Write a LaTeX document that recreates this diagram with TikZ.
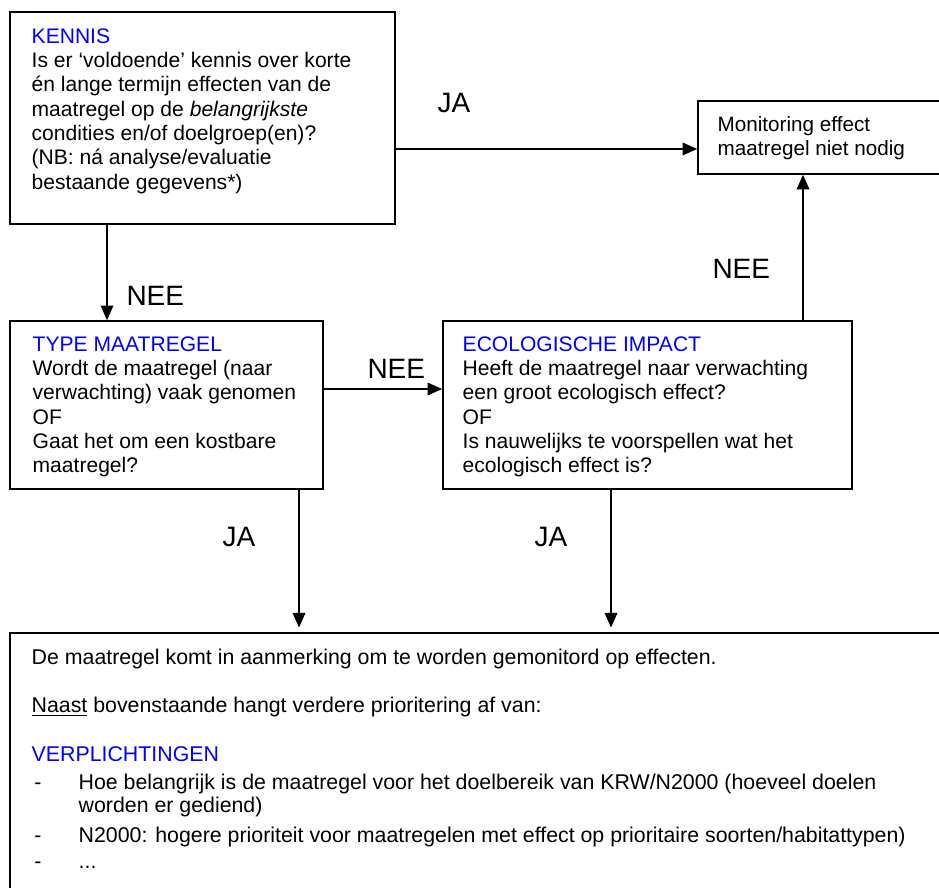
\documentclass[tikz,border=0pt]{standalone}
\usepackage{fontspec}
\setmainfont{Liberation Sans}
\usetikzlibrary{arrows.meta,fit}
\definecolor{headblue}{RGB}{0,0,255}
\tikzset{every picture/.style={line width=0.75pt}}

\begin{document}
\begin{tikzpicture}[x=0.75pt,y=0.75pt,yscale=-1,xscale=1,
  box/.style={draw, line width=1.2pt, inner sep=0pt},
  boxtext/.style={anchor=north west, inner sep=0pt, align=left, font=\fontsize{15.8}{18.2}\selectfont},
  answer/.style={anchor=base west, inner sep=0pt, font=\fontsize{21}{25}\selectfont},
  flow/.style={-{Triangle[length=11pt,width=9.5pt]}, line width=1pt}]
	\useasboundingbox (0,0) rectangle (939,888);
	\clip (0,0) rectangle (939,888);

	%Shape: Rectangle [kennis]
	\node[box, fit={(10,12) (395,224)}] (kennis) {};
	%Shape: Rectangle [type]
	\node[box, fit={(10,321) (323,489)}] (type) {};
	%Shape: Rectangle [eco]
	\node[box, fit={(443,321) (852,489)}] (eco) {};
	%Shape: Rectangle [monitor]
	\node[box, fit={(698,101) (960,174)}] (monitor) {};
	%Shape: Rectangle [result]
	\node[box, fit={(10,633) (960,910)}] (result) {};

	% Text Node
	\node[boxtext] (kennistext) at ([shift={(22,17)}]kennis.north west) {{\color{headblue}KENNIS}\\Is er ‘voldoende’ kennis over korte\\én lange termijn effecten van de\\maatregel op de \textit{belangrijkste}\\condities en/of doelgroep(en)?\\(NB: ná analyse/evaluatie\\bestaande gegevens*)};
	% Text Node
	\node[boxtext] (typetext) at ([shift={(23,16)}]type.north west) {{\color{headblue}TYPE MAATREGEL}\\Wordt de maatregel (naar\\verwachting) vaak genomen\\OF\\Gaat het om een kostbare\\maatregel?};
	% Text Node
	\node[boxtext] (ecotext) at ([shift={(20,16)}]eco.north west) {{\color{headblue}ECOLOGISCHE IMPACT}\\Heeft de maatregel naar verwachting\\een groot ecologisch effect?\\OF\\Is nauwelijks te voorspellen wat het\\ecologisch effect is?};
	% Text Node
	\node[boxtext, font=\fontsize{15.5}{18.2}\selectfont] (monitortext) at ([shift={(20,16)}]monitor.north west) {Monitoring effect\\maatregel niet nodig};
	% Text Node
	\node[boxtext, font=\fontsize{16}{18.2}\selectfont] (resulttext) at ([shift={(22,16)}]result.north west) {De maatregel komt in aanmerking om te worden gemonitord op effecten.\\[18.2pt]
	\underline{Naast} bovenstaande hangt verdere prioritering af van:\\[18.2pt]
	{\color{headblue}VERPLICHTINGEN}\\[3pt]
	\makebox[35.25pt][l]{\hspace{2pt}-}Hoe belangrijk is de maatregel voor het doelbereik van KRW/N2000 (hoeveel doelen\\[-1pt]
	\hspace*{35.25pt}worden er gediend)\\[4pt]
	\makebox[35.25pt][l]{\hspace{2pt}-}N2000: hogere prioriteit voor maatregelen met effect op prioritaire soorten/habitattypen)\\[1.5pt]
	\makebox[35.25pt][l]{\hspace{2pt}-}...};

	% Answers
	\node[answer] (ja1) at (437,113) {JA};
	\node[answer] (nee1) at (126,305) {NEE};
	\node[answer] (nee2) at (367,378) {NEE};
	\node[answer] (nee3) at (712,278) {NEE};
	\node[answer] (ja2) at (222,546) {JA};
	\node[answer] (ja3) at (534,546) {JA};

	% Connectors
	\draw[flow] (kennis.east |- 0,149) -- (monitor.west |- 0,149);
	\draw[flow] (kennis.south -| 107,0) -- (type.north -| 107,0);
	\draw[flow] (type.east |- 0,389) -- (eco.west |- 0,389);
	\draw[flow] (eco.north -| 803,0) -- (monitor.south -| 803,0);
	\draw[flow, shorten >=3.5pt] (type.south -| 299,0) -- (result.north -| 299,0);
	\draw[flow, shorten >=3.5pt] (eco.south -| 611,0) -- (result.north -| 611,0);

\end{tikzpicture}
\end{document}
